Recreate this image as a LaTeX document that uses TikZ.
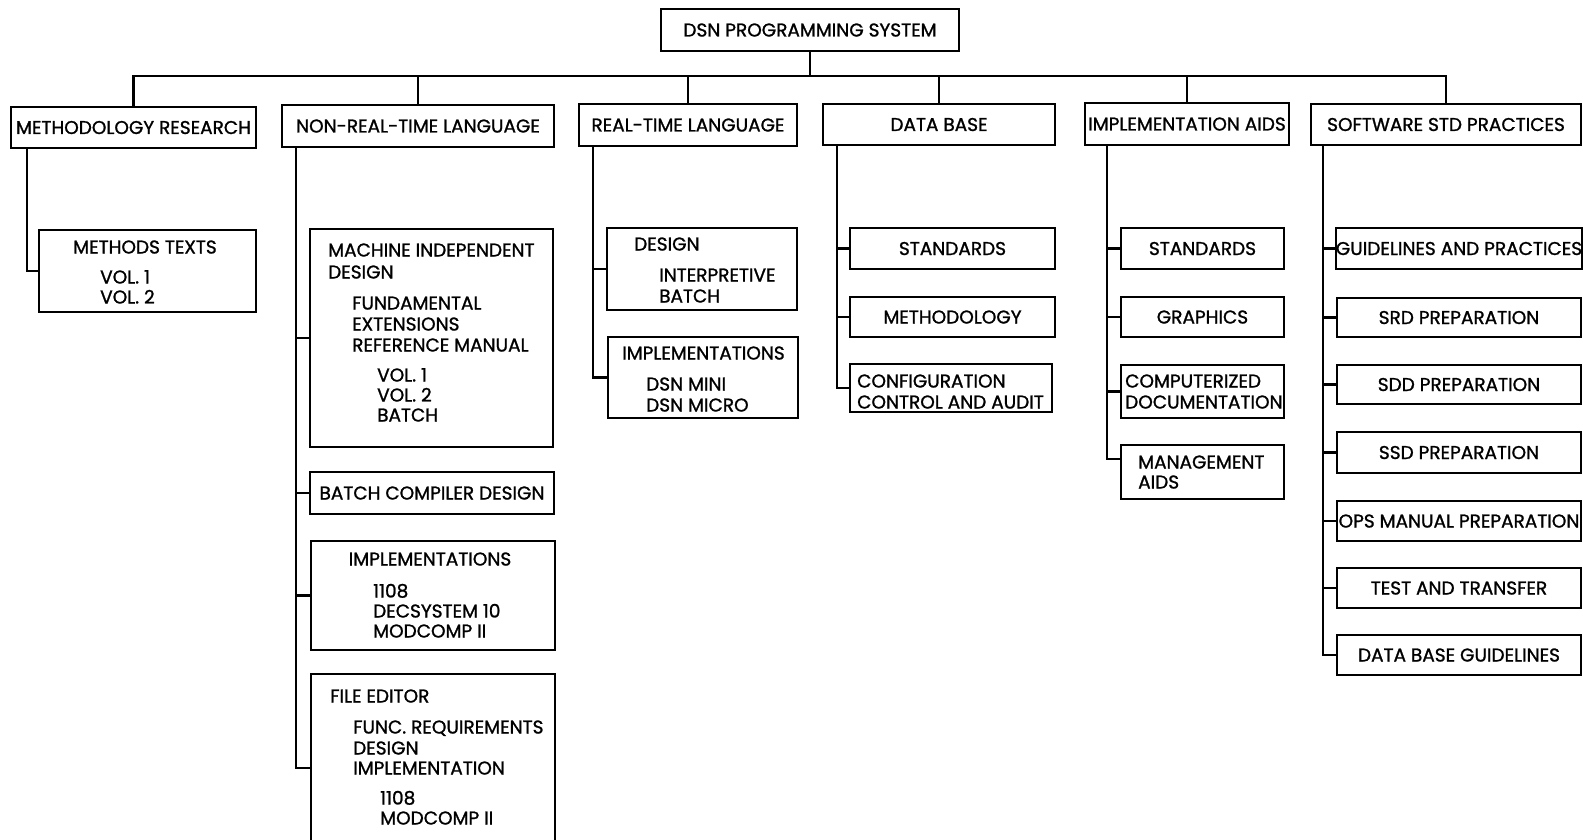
\documentclass[tikz,border=0pt]{standalone}
\usepackage{fontspec}
\newfontfamily\dsnfont{Poppins}[FakeBold=1.2]
\tikzset{
 box/.style={draw, line width=1.8pt, inner sep=0pt, text height=13pt, text depth=0pt, anchor=center},
 lbl/.style={anchor=base west, inner sep=0pt},
 clbl/.style={anchor=base, inner sep=0pt},
 conn/.style={line width=2.2pt},
}
\newcommand\dsnbox[7][]{\node[box,minimum width={(#4-#2)*1pt},minimum height={(#5-#3)*1pt},#1] (#6) at ({(#2+#4)/2},{(#3+#5)/2}) {#7};}
\newcommand\dsntxt[5][lbl]{\node[#1] (#2) at (#3,{#4+6.5}) {#5};}
\begin{document}
\begin{tikzpicture}[x=1pt,y=-1pt,font=\dsnfont\fontsize{18.5}{22}\selectfont]
\useasboundingbox (0,0) rectangle (1583,840);
\coordinate (bus) at (0,76);
\coordinate (sp1) at (27,0);
\coordinate (sp2) at (296,0);
\coordinate (sp3) at (593,0);
\coordinate (sp4) at (837,0);
\coordinate (sp5) at (1107,0);
\coordinate (sp6) at (1323,0);
\coordinate (iamj) at (1121,459);
% top
\dsnbox{661}{9}{959}{51}{top}{DSN PROGRAMMING SYSTEM}
\dsnbox{11}{107}{256}{148}{mr}{METHODOLOGY RESEARCH}
\dsnbox{282}{105}{554}{147}{nrt}{NON-REAL-TIME LANGUAGE}
\dsnbox{579}{104}{797}{146}{rt}{REAL-TIME LANGUAGE}
\dsnbox{823}{104}{1055}{145}{db}{DATA BASE}
\dsnbox{1085}{103}{1289}{145}{ia}{IMPLEMENTATION AIDS}
\dsnbox{1311}{104}{1581}{145}{ssp}{SOFTWARE STD PRACTICES}
% methodology research
\dsnbox{39}{230}{256}{312}{mt}{}
\dsntxt[clbl]{mtt}{145}{247}{METHODS TEXTS}
\dsntxt{mt1}{100}{277}{VOL. 1}
\dsntxt{mt2}{100}{297}{VOL. 2}
% non-real-time language
\dsnbox{310}{229}{553}{447}{mid}{}
\dsntxt{mid1}{328}{250}{MACHINE INDEPENDENT}
\dsntxt{mid2}{328}{272}{DESIGN}
\dsntxt{mid3}{352}{303}{FUNDAMENTAL}
\dsntxt{mid4}{352}{324}{EXTENSIONS}
\dsntxt{mid5}{352}{345}{REFERENCE MANUAL}
\dsntxt{mid6}{377}{375}{VOL. 1}
\dsntxt{mid7}{377}{395}{VOL. 2}
\dsntxt{mid8}{377}{415}{BATCH}
\dsnbox{310}{472}{554}{514}{bcd}{BATCH COMPILER DESIGN}
\dsnbox{311}{541}{555}{650}{impl}{}
\dsntxt[clbl]{impl1}{430}{559}{IMPLEMENTATIONS}
\dsntxt{impl2}{373}{591}{1108}
\dsntxt{impl3}{373}{611}{DECSYSTEM 10}
\dsntxt{impl4}{373}{631}{MODCOMP II}
\dsnbox{311}{674}{555}{862}{fe}{}
\dsntxt{fe1}{330}{696}{FILE EDITOR}
\dsntxt{fe2}{353}{727}{FUNC. REQUIREMENTS}
\dsntxt{fe3}{353}{748}{DESIGN}
\dsntxt{fe4}{353}{768}{IMPLEMENTATION}
\dsntxt{fe5}{380}{798}{1108}
\dsntxt{fe6}{380}{818}{MODCOMP II}
% real-time language
\dsnbox{607}{228}{797}{310}{rtd}{}
\dsntxt{rtd1}{634}{244}{DESIGN}
\dsntxt{rtd2}{659}{275}{INTERPRETIVE}
\dsntxt{rtd3}{659}{296}{BATCH}
\dsnbox{608}{337}{798}{418}{rti}{}
\dsntxt{rti1}{622}{353}{IMPLEMENTATIONS}
\dsntxt{rti2}{646}{384}{DSN MINI}
\dsntxt{rti3}{646}{405}{DSN MICRO}
% data base
\dsnbox{850}{228}{1055}{269}{dbs}{STANDARDS}
\dsnbox{850}{297}{1055}{337}{dbm}{METHODOLOGY}
\dsnbox{850}{364}{1052}{412}{dbc}{}
\dsntxt{dbc1}{857}{381}{CONFIGURATION}
\dsntxt{dbc2}{857}{402}{CONTROL AND AUDIT}
% implementation aids
\dsnbox{1121}{228}{1284}{269}{ias}{STANDARDS}
\dsnbox{1121}{297}{1284}{337}{iag}{GRAPHICS}
\dsnbox{1121}{365}{1284}{418}{iac}{}
\dsntxt{iac1}{1125}{381}{COMPUTERIZED}
\dsntxt{iac2}{1125}{402}{DOCUMENTATION}
\dsnbox{1121}{445}{1284}{499}{iam}{}
\dsntxt{iam1}{1138}{462}{MANAGEMENT}
\dsntxt{iam2}{1138}{482}{AIDS}
% software std practices
\dsnbox{1337}{228}{1581}{269}{g1}{GUIDELINES AND PRACTICES}
\dsnbox{1337}{298}{1581}{337}{g2}{SRD PREPARATION}
\dsnbox{1337}{365}{1581}{404}{g3}{SDD PREPARATION}
\dsnbox{1337}{432}{1581}{473}{g4}{SSD PREPARATION}
\dsnbox{1337}{501}{1581}{541}{g5}{OPS MANUAL PREPARATION}
\dsnbox{1337}{568}{1581}{608}{g6}{TEST AND TRANSFER}
\dsnbox{1337}{635}{1581}{675}{g7}{DATA BASE GUIDELINES}
% connectors
\draw[conn] (top.south) -- (top.south |- bus);
\draw[conn] (mr.north) -- (mr.north |- bus) -- (ssp.north |- bus) -- (ssp.north);
\foreach \n in {nrt,rt,db,ia} \draw[conn] (\n.north) -- (\n.north |- bus);
\draw[conn] (mr.south -| sp1) |- (mt.west);
\draw[conn] (nrt.south -| sp2) |- (fe.west);
\foreach \n in {mid,bcd,impl} \draw[conn] (sp2 |- \n.west) -- (\n.west);
\draw[conn] (rt.south -| sp3) |- (rti.west);
\draw[conn] (sp3 |- rtd.west) -- (rtd.west);
\draw[conn] (db.south -| sp4) |- (dbc.west);
\foreach \n in {dbs,dbm} \draw[conn] (sp4 |- \n.west) -- (\n.west);
\draw[conn] (ia.south -| sp5) |- (iamj);
\foreach \n in {ias,iag,iac} \draw[conn] (sp5 |- \n.west) -- (\n.west);
\draw[conn] (ssp.south -| sp6) |- (g7.west);
\foreach \n in {g1,g2,g3,g4,g5,g6} \draw[conn] (sp6 |- \n.west) -- (\n.west);
\end{tikzpicture}
\end{document}
